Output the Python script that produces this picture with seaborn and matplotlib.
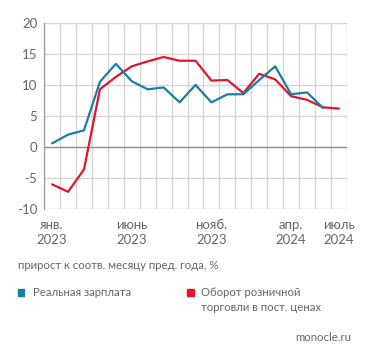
import numpy as np
import pandas as pd
import matplotlib
matplotlib.use("Agg")
import matplotlib.pyplot as plt
from matplotlib.patches import Rectangle
import seaborn as sns

sns.set_theme(style="white")
plt.rcParams['font.family'] = ['Lato', 'DejaVu Sans']

# data, % change vs same month a year earlier
months = ['2023-01', '2023-02', '2023-03', '2023-04', '2023-05', '2023-06', '2023-07',
          '2023-08', '2023-09', '2023-10', '2023-11', '2023-12', '2024-01', '2024-02',
          '2024-03', '2024-04', '2024-05', '2024-06', '2024-07']
real_wage = [0.6, 2.0, 2.7, 10.5, 13.4, 10.6, 9.3, 9.6, 7.2, 10.0, 7.2, 8.5, 8.5, 10.8,
             13.0, 8.5, 8.8, 6.3, np.nan]
retail = [-6.0, -7.2, -3.6, 9.3, 11.3, 13.0, 13.8, 14.5, 13.9, 13.9, 10.7, 10.8, 8.7, 11.8,
          10.9, 8.2, 7.6, 6.4, 6.2]
tick_pos = [0, 5, 10, 15, 18]
tick_labels = ['янв.\n2023', 'июнь\n2023', 'нояб.\n2023', 'апр.\n2024', 'июль\n2024']

blue = '#1a7ea3'
red = '#e0162b'
grey_text = '#666666'
grid_col = '#d6d6d6'

df = pd.DataFrame({'idx': np.arange(len(months)), 'wage': real_wage, 'retail': retail})

fig = plt.figure(figsize=(3.71, 3.57), dpi=100)
ax = fig.add_axes([0.119, 0.414, 0.816, 0.522])
ax.set_axisbelow(True)

sns.lineplot(data=df, x='idx', y='retail', color=red, lw=1.6, ax=ax, zorder=3)
sns.lineplot(data=df.dropna(), x='idx', y='wage', color=blue, lw=1.6, ax=ax, zorder=4)

ax.set_xlim(-0.5, len(months) - 0.5)
ax.set_ylim(-10, 20)
ax.set_yticks(range(-10, 21, 5))
ax.set_yticklabels([str(v) for v in range(-10, 21, 5)])
ax.set_xticks(tick_pos)
ax.set_xticklabels(tick_labels, linespacing=1.3)
ax.set_xticks(np.arange(-0.5, len(months), 1), minor=True)

# grid drawn by hand so it stays visible
for y in range(-10, 21, 5):
    ax.axhline(y, color=grid_col, lw=1.0, zorder=1)
for x in np.arange(-0.5, len(months), 1):
    ax.axvline(x, color=grid_col, lw=1.0, zorder=1)
ax.axhline(0, color='#8c8c8c', lw=0.9, zorder=2)

ax.tick_params(axis='both', which='major', length=0, labelsize=9.5, labelcolor=grey_text)
ax.tick_params(axis='y', pad=5)
ax.tick_params(axis='x', pad=7)
ax.tick_params(axis='x', which='minor', length=4, color=grid_col, width=1.0)

for s in ['top', 'right', 'bottom']:
    ax.spines[s].set_visible(False)
ax.spines['left'].set_color('#999999')
ax.spines['left'].set_linewidth(0.9)
ax.spines['left'].set_zorder(2.5)
ax.set_xlabel('')
ax.set_ylabel('')

fs = 8.2
fig.text(0.048, 0.255, 'прирост к соотв. месяцу пред. года, %', fontsize=fs,
         color=grey_text, va='center')
fig.patches.append(Rectangle((0.048, 0.171), 0.018, 0.019, color=blue,
                             transform=fig.transFigure, figure=fig))
fig.text(0.089, 0.180, 'Реальная зарплата', fontsize=fs, color=grey_text, va='center')
fig.patches.append(Rectangle((0.505, 0.171), 0.018, 0.019, color=red,
                             transform=fig.transFigure, figure=fig))
fig.text(0.541, 0.180, 'Оборот розничной', fontsize=fs, color=grey_text, va='center')
fig.text(0.541, 0.140, 'торговли в пост. ценах', fontsize=fs, color=grey_text, va='center')
fig.text(0.947, 0.055, 'monocle.ru', fontsize=fs, color=grey_text, va='center', ha='right')

fig.savefig('out.png', dpi=100, facecolor='white')
